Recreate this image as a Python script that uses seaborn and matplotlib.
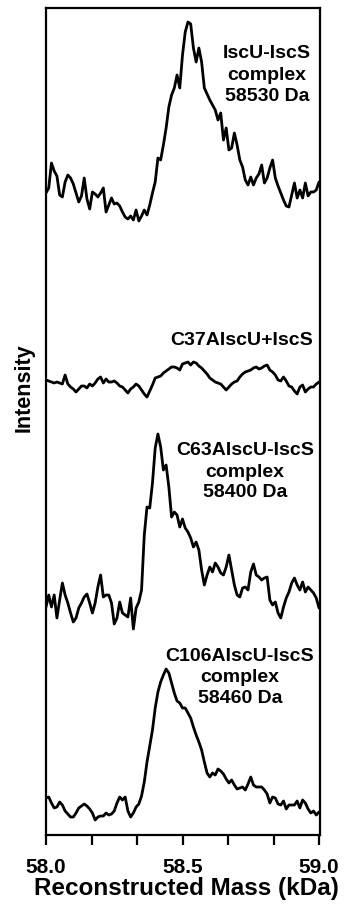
import numpy as np
import pandas as pd
import matplotlib
matplotlib.use("Agg")
import matplotlib.pyplot as plt
import seaborn as sns

# ---------------- data ----------------
MASS = np.round(np.linspace(58.0, 59.0, 101), 2)   # kDa, sampling grid

TRACE_NAMES = ["IscU-IscS", "C37AIscU+IscS", "C63AIscU-IscS", "C106AIscU-IscS"]

INT_WT = [32, 37, 62, 54, 49, 30, 28, 43, 50, 47,
          41, 32, 23, 29, 47, 26, 16, 33, 31, 28,
          32, 37, 13, 20, 27, 21, 22, 19, 13, 8,
          6, 9, 5, 15, 4, 9, 15, 10, 20, 32,
          43, 67, 65, 80, 97, 118, 130, 137, 150, 137,
          170, 193, 203, 201, 177, 163, 177, 163, 137, 131,
          125, 120, 115, 105, 112, 85, 97, 75, 77, 92,
          80, 65, 58, 45, 40, 48, 40, 47, 51, 60,
          42, 47, 57, 65, 47, 39, 32, 25, 19, 18,
          30, 42, 27, 35, 27, 42, 29, 33, 33, 35, 43]

INT_C37A = [20, 19, 18, 17, 18, 17, 16, 25, 16, 13,
            11, 8, 11, 14, 14, 12, 16, 14, 17, 21,
            23, 17, 21, 18, 18, 19, 17, 14, 13, 10,
            7, 11, 13, 16, 14, 10, 6, 3, 9, 15,
            22, 23, 24, 27, 29, 31, 33, 33, 32, 30,
            36, 37, 38, 35, 38, 37, 34, 32, 29, 26,
            22, 20, 18, 17, 16, 13, 10, 13, 16, 18,
            19, 23, 26, 28, 29, 30, 32, 33, 31, 32,
            34, 35, 30, 28, 25, 20, 19, 23, 19, 14,
            13, 9, 6, 13, 15, 8, 11, 13, 13, 16, 18]

INT_C63A = [25, 37, 25, 37, 14, 32, 49, 37, 29, 19,
            10, 14, 24, 29, 35, 38, 29, 19, 29, 45,
            57, 35, 37, 37, 29, 8, 14, 30, 19, 17,
            15, 34, 3, 24, 30, 42, 97, 125, 124, 149,
            184, 198, 185, 162, 167, 145, 115, 120, 117, 105,
            113, 104, 100, 94, 85, 90, 82, 62, 47, 57,
            65, 60, 69, 65, 59, 57, 65, 77, 62, 47,
            37, 35, 44, 45, 42, 60, 68, 57, 55, 52,
            54, 55, 32, 27, 30, 19, 14, 25, 34, 40,
            49, 54, 47, 42, 50, 40, 45, 42, 39, 34, 24]

INT_C106A = [24, 25, 19, 14, 15, 20, 17, 11, 8, 5,
             5, 9, 14, 16, 18, 16, 13, 9, 2, 5,
             6, 6, 9, 7, 8, 11, 19, 25, 22, 25,
             11, 5, 9, 15, 18, 26, 40, 60, 76, 92,
             114, 130, 140, 147, 153, 149, 139, 129, 121, 119,
             114, 114, 109, 104, 95, 87, 80, 72, 60, 49,
             45, 49, 47, 53, 51, 48, 43, 39, 42, 37,
             33, 34, 35, 32, 38, 45, 37, 35, 35, 35,
             32, 28, 19, 25, 24, 18, 17, 21, 13, 17,
             17, 17, 21, 14, 22, 19, 13, 9, 11, 7, 10]

LABELS = [["IscU-IscS", "complex", "58530 Da"],
          ["C37AIscU+IscS"],
          ["C63AIscU-IscS", "complex", "58400 Da"],
          ["C106AIscU-IscS", "complex", "58460 Da"]]

XTICKS = [58.0, 58.0 + 1 / 6, 58.0 + 2 / 6, 58.5, 58.0 + 4 / 6, 58.0 + 5 / 6, 59.0]
XTICKLABELS = ["58.0", "", "", "58.5", "", "", "59.0"]

# ---------------- layout ----------------
OFFSETS = [610, 435, 203, 13]            # vertical stacking offsets
W, H = 351, 910

sns.set_theme(style="ticks")
plt.rcParams["font.family"] = ["Liberation Sans", "DejaVu Sans"]
plt.rcParams["font.weight"] = "bold"
plt.rcParams["text.color"] = "black"
plt.rcParams["axes.labelcolor"] = "black"
plt.rcParams["xtick.color"] = "black"

frames = []
for name, vals, off in zip(TRACE_NAMES, [INT_WT, INT_C37A, INT_C63A, INT_C106A], OFFSETS):
    frames.append(pd.DataFrame({"mass": MASS, "intensity": vals,
                                "y": np.asarray(vals) + off, "trace": name}))
df = pd.concat(frames, ignore_index=True)

fig = plt.figure(figsize=(W / 100, H / 100), dpi=100)
ax = fig.add_axes([45.5 / W, 75 / H, (320 - 45.5) / W, (835 - 8) / H])

sns.lineplot(data=df, x="mass", y="y", hue="trace", units="trace",
             estimator=None, sort=False, palette=["black"] * 4,
             legend=False, linewidth=2.0, ax=ax)

ax.set_xlim(58.0 - 0.5 / 273, 59.0 + 1.0 / 273)
ax.set_ylim(0, 827)
ax.set_yticks([])
ax.set_xticks(XTICKS)
ax.set_xticklabels(XTICKLABELS, fontsize=15, fontweight="bold", color="black")
ax.tick_params(axis="x", direction="out", length=7.5, width=1.6, pad=9, colors="black")
for s in ax.spines.values():
    s.set_visible(True)
    s.set_linewidth(1.6)
    s.set_color("black")
ax.set_xlabel("")
ax.set_ylabel("")

# annotations (figure pixel positions: x centre, baselines)
ann_pos = [(267, [58.5, 80, 101]),
           (242, [345]),
           (245, [455, 477, 497]),
           (240, [661, 682, 703])]
for lines, (xc, bases) in zip(LABELS, ann_pos):
    for txt, yb in zip(lines, bases):
        fig.text(xc / W, 1 - yb / H, txt, ha="center", va="baseline",
                 fontsize=14, fontweight="bold", color="black")

fig.text(186 / W, 1 - 895 / H, "Reconstructed Mass (kDa)", ha="center",
         va="baseline", fontsize=17.5, fontweight="bold", color="black")
fig.text(24 / W, 1 - 388 / H, "Intensity", ha="center", va="center",
         rotation=90, fontsize=15.5, fontweight="bold", color="black")

fig.savefig("out.png", dpi=100)
